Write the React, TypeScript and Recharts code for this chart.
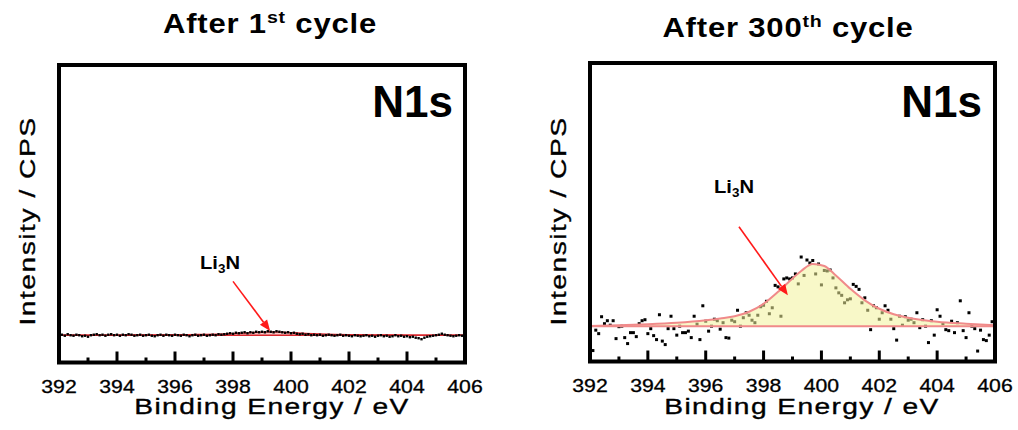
import { ComposedChart, Scatter, Area, XAxis, YAxis, ReferenceLine, ReferenceArea } from "recharts"

// binding energy grid of the raw spectra (eV)
const energy = [
  392.0, 392.1, 392.2, 392.3, 392.4, 392.5, 392.6, 392.7, 392.8, 392.9,
  393.0, 393.1, 393.2, 393.3, 393.4, 393.5, 393.6, 393.7, 393.8, 393.9,
  394.0, 394.1, 394.2, 394.3, 394.4, 394.5, 394.6, 394.7, 394.8, 394.9,
  395.0, 395.1, 395.2, 395.3, 395.4, 395.5, 395.6, 395.7, 395.8, 395.9,
  396.0, 396.1, 396.2, 396.3, 396.4, 396.5, 396.6, 396.7, 396.8, 396.9,
  397.0, 397.1, 397.2, 397.3, 397.4, 397.5, 397.6, 397.7, 397.8, 397.9,
  398.0, 398.1, 398.2, 398.3, 398.4, 398.5, 398.6, 398.7, 398.8, 398.9,
  399.0, 399.1, 399.2, 399.3, 399.4, 399.5, 399.6, 399.7, 399.8, 399.9,
  400.0, 400.1, 400.2, 400.3, 400.4, 400.5, 400.6, 400.7, 400.8, 400.9,
  401.0, 401.1, 401.2, 401.3, 401.4, 401.5, 401.6, 401.7, 401.8, 401.9,
  402.0, 402.1, 402.2, 402.3, 402.4, 402.5, 402.6, 402.7, 402.8, 402.9,
  403.0, 403.1, 403.2, 403.3, 403.4, 403.5, 403.6, 403.7, 403.8, 403.9,
  404.0, 404.1, 404.2, 404.3, 404.4, 404.5, 404.6, 404.7, 404.8, 404.9,
  405.0, 405.1, 405.2, 405.3, 405.4, 405.5, 405.6, 405.7, 405.8, 405.9,
  406.0,
]

// after 1st cycle, raw counts (a.u.)
const firstCycleCounts = [
  27.5, 28, 27, 28.5, 27.5, 27, 28, 27.5, 26.5, 27,
  26, 27.5, 28, 28.5, 27.5, 28, 27, 28, 28.5, 27.5,
  28, 27, 28, 27.5, 28.5, 28, 27, 27.5, 28, 27,
  27.5, 28, 27, 26.5, 27.5, 28, 27, 28, 27.5, 27,
  28, 27.5, 27, 28, 27.5, 26.5, 27.5, 28, 27, 27.5,
  28, 27, 27.5, 28, 27.5, 28.5, 28, 28.5, 29, 29.5,
  29, 30, 29.5, 30, 30.5, 29.5, 30.5, 30, 31, 30.5,
  31, 30.5, 31.5, 31, 30.5, 31.5, 31, 30.5, 30, 30.5,
  29.5, 30, 29, 28.5, 29, 28, 28.5, 27.5, 28, 27.5,
  28, 27, 27.5, 28, 27.5, 27, 27.5, 28, 27, 27.5,
  27, 26.5, 27.5, 27, 26.5, 27, 27.5, 26.5, 27, 26,
  27, 27.5, 26.5, 27, 26, 26.5, 27.5, 26.5, 27, 26,
  26.5, 25.5, 26, 25, 24.5, 23.5, 25, 26, 26.5, 27,
  27.5, 28, 29, 28, 27.5, 27, 26.5, 27, 27.5, 27,
  27.5,
]

// after 300th cycle, raw counts (a.u.)
const cycle300Counts = [
  35, 11, 31.5, 28, 45, 38, 41, 36.5, 41, 23,
  35, 35.5, 24, 18, 29, 29, 25, 38, 41, 42,
  28, 33, 26, 22, 47, 20.5, 17, 33, 45.5, 33,
  26.5, 35.5, 29, 29, 30.5, 24, 45.5, 37.5, 22, 56,
  40.5, 30.5, 35.5, 42.5, 41, 32.5, 39, 24, 23.5, 41.5,
  40, 51.5, 35.5, 44, 49, 46.5, 41.5, 39, 46.5, 55,
  56.5, 60.5, 48, 54, 76.5, 75, 45.5, 83, 84, 83,
  84, 88, 78, 105, 86.5, 102, 99, 101.5, 88, 98,
  77, 91.5, 91, 92, 84, 74, 69, 66.5, 59, 62,
  63, 77.5, 75.5, 72.5, 59, 64, 51.5, 32, 56, 54,
  42.5, 49, 56, 51.5, 42.5, 33, 21.5, 45.5, 36.5, 45,
  41.5, 42.5, 39, 49, 34, 42, 35.5, 19, 41, 26.5,
  52, 45.5, 38, 32, 31, 40.5, 29, 39, 61, 31,
  24, 49, 35.5, 33, 10.5, 31.5, 22, 21, 26.5, 40,
  36,
]

// Li3N fitted component
const fitEnergy = [392, 393, 394, 395, 396, 396.5, 397, 397.5, 398, 398.5, 399, 399.3, 399.7, 400.1, 400.5, 401, 401.5, 402, 402.5, 403, 404, 405, 406]
const firstCycleFit = [27.6, 27.6, 27.7, 27.8, 28.0, 28.1, 28.3, 28.6, 29.1, 29.9, 30.6, 30.8, 30.6, 30.0, 29.4, 28.8, 28.4, 28.2, 28.0, 27.9, 27.7, 27.6, 27.6]
const cycle300Fit = [35.8, 36.5, 37.5, 39, 41.5, 43.3, 45.5, 50, 58, 70, 83.5, 91, 98, 96, 86.5, 73, 61.5, 53, 47.5, 44, 40, 38, 36.5]
const firstCycleBackground = 27.5
const cycle300Background = 35.5

const xTicks = [392, 393, 394, 395, 396, 397, 398, 399, 400, 401, 402, 403, 404, 405, 406]
const majorTicks = [392, 394, 396, 398, 400, 402, 404, 406]

const font = "'Liberation Sans', Arial, sans-serif"

// the original figure's lettering is stretched sideways
function Stretched({ x, y, sx, rotate, children, ...rest }: any) {
  const rot = rotate ? ` rotate(${rotate})` : ""
  return (
    <text transform={`translate(${x},${y})${rot} scale(${sx},1)`} x={0} y={0} textAnchor="middle" fontFamily={font} fill="#000" {...rest}>
      {children}
    </text>
  )
}

function EnergyTick(props: any) {
  const { x, y, payload } = props
  const major = majorTicks.includes(payload.value)
  return (
    <g>
      <line x1={x} x2={x} y1={y} y2={y - (major ? 11 : 5)} stroke="#000" strokeWidth={3} />
      {major && (
        <Stretched x={x} y={y + 30} sx={1.18} fontSize={18} stroke="#000" strokeWidth={0.3}>
          {payload.value}
        </Stretched>
      )}
    </g>
  )
}

function Arrow(props: any) {
  const { x1, y1, x2, y2 } = props
  const ang = Math.atan2(y2 - y1, x2 - x1)
  const len = 11
  const half = 4.5
  const bx = x2 - len * Math.cos(ang)
  const by = y2 - len * Math.sin(ang)
  const px = -Math.sin(ang) * half
  const py = Math.cos(ang) * half
  return (
    <g>
      <line x1={x1} y1={y1} x2={bx} y2={by} stroke="#ff1a1a" strokeWidth={1.6} />
      <polygon points={`${x2},${y2} ${bx + px},${by + py} ${bx - px},${by - py}`} fill="#ff1a1a" />
    </g>
  )
}

type PanelProps = {
  left: number
  margin: { top: number; right: number; bottom: number; left: number }
  counts: number[]
  fit: number[]
  background: number
  lineColor: string
  lineWidth: number
  fillColor: string
  fillOpacity: number
  fitAbove: boolean
  dot: number
  arrow: { x: number; y: number }[]
}

function Panel(p: PanelProps) {
  const points = energy.map((e, i) => ({ energy: e, intensity: p.counts[i] }))
  const fitPoints = fitEnergy.map((e, i) => ({ energy: e, intensity: p.fit[i] }))
  return (
    <div style={{ position: "absolute", left: p.left, top: 0 }}>
      <ComposedChart width={509} height={430} margin={p.margin}>
        <XAxis
          type="number"
          dataKey="energy"
          domain={[392, 406]}
          allowDataOverflow
          ticks={xTicks}
          interval={0}
          tickLine={false}
          axisLine={false}
          tickSize={0}
          tickMargin={0}
          height={30}
          tick={<EnergyTick />}
        />
        <YAxis type="number" dataKey="intensity" domain={[0, 300]} allowDataOverflow hide />
        <Area
          data={fitPoints}
          dataKey="intensity"
          type="monotone"
          baseValue={p.background}
          stroke={p.lineColor}
          strokeWidth={p.lineWidth}
          fill={p.fillColor}
          fillOpacity={p.fillOpacity}
          isAnimationActive={false}
          zIndex={p.fitAbove ? 700 : 500}
        />
        <ReferenceLine y={p.background} stroke={p.lineColor} strokeWidth={p.lineWidth} zIndex={p.fitAbove ? 710 : 510} />
        <Scatter
          data={points}
          isAnimationActive={false}
          zIndex={600}
          shape={(s: any) => (
            <rect x={s.cx - p.dot / 2} y={s.cy - p.dot / 2} width={p.dot} height={p.dot} fill="#000" />
          )}
        />
        <ReferenceLine segment={p.arrow} shape={<Arrow />} zIndex={720} />
        <ReferenceArea x1={392} x2={406} y1={0} y2={300} fill="none" stroke="#000" strokeWidth={4} zIndex={730} />
      </ComposedChart>
    </div>
  )
}

function Title({ x, y, num, sup }: { x: number; y: number; num: string; sup: string }) {
  return (
    <Stretched x={x} y={y} sx={1.15} fontWeight="bold" fontSize={27} letterSpacing={0.7}>
      <tspan>After {num}</tspan>
      <tspan dy={-10} fontSize={17}>{sup}</tspan>
      <tspan dy={10}> cycle</tspan>
    </Stretched>
  )
}

function Li3N({ x, y }: { x: number; y: number }) {
  return (
    <Stretched x={x} y={y} sx={1.12} fontWeight="bold" fontSize={18}>
      <tspan>Li</tspan>
      <tspan dy={4} fontSize={12}>3</tspan>
      <tspan dy={-4}>N</tspan>
    </Stretched>
  )
}

export default function App() {
  return (
    <div style={{ position: "absolute", left: 0, top: 0, width: 1018, height: 430, background: "#fff", overflow: "hidden" }}>
      <Panel
        left={0}
        margin={{ top: 65, left: 59, right: 44, bottom: 37.5 }}
        counts={firstCycleCounts}
        fit={firstCycleFit}
        background={firstCycleBackground}
        lineColor="#d9262c"
        lineWidth={1.3}
        fillColor="#f4a3a3"
        fillOpacity={0.6}
        fitAbove={false}
        dot={2.4}
        arrow={[{ x: 398.0, y: 81.8 }, { x: 399.28, y: 31.8 }]}
      />
      <Panel
        left={509}
        margin={{ top: 63, left: 81, right: 23, bottom: 38.5 }}
        counts={cycle300Counts}
        fit={cycle300Fit}
        background={cycle300Background}
        lineColor="#f08a8a"
        lineWidth={2}
        fillColor="#f3f39a"
        fillOpacity={0.55}
        fitAbove={true}
        dot={3}
        arrow={[{ x: 397.15, y: 135.5 }, { x: 398.84, y: 66.5 }]}
      />
      <svg width={1018} height={430} style={{ position: "absolute", left: 0, top: 0, pointerEvents: "none" }}>
        <Title x={270} y={33} num="1" sup="st" />
        <Title x={788} y={37} num="300" sup="th" />
        <text x={453} y={117} textAnchor="end" fontFamily={font} fontWeight="bold" fontSize={44}>N1s</text>
        <text x={982} y={117} textAnchor="end" fontFamily={font} fontWeight="bold" fontSize={44}>N1s</text>
        <Li3N x={220} y={269} />
        <Li3N x={734} y={193} />
        <Stretched x={272} y={414} sx={1.28} fontSize={22} letterSpacing={1.1} stroke="#000" strokeWidth={0.35}>Binding Energy / eV</Stretched>
        <Stretched x={802} y={414} sx={1.28} fontSize={22} letterSpacing={1.1} stroke="#000" strokeWidth={0.35}>Binding Energy / eV</Stretched>
        <Stretched x={35} y={221} rotate={-90} sx={1.28} fontSize={22} letterSpacing={1.2} stroke="#000" strokeWidth={0.35}>Intensity / CPS</Stretched>
        <Stretched x={566} y={221} rotate={-90} sx={1.28} fontSize={22} letterSpacing={1.2} stroke="#000" strokeWidth={0.35}>Intensity / CPS</Stretched>
      </svg>
    </div>
  )
}
